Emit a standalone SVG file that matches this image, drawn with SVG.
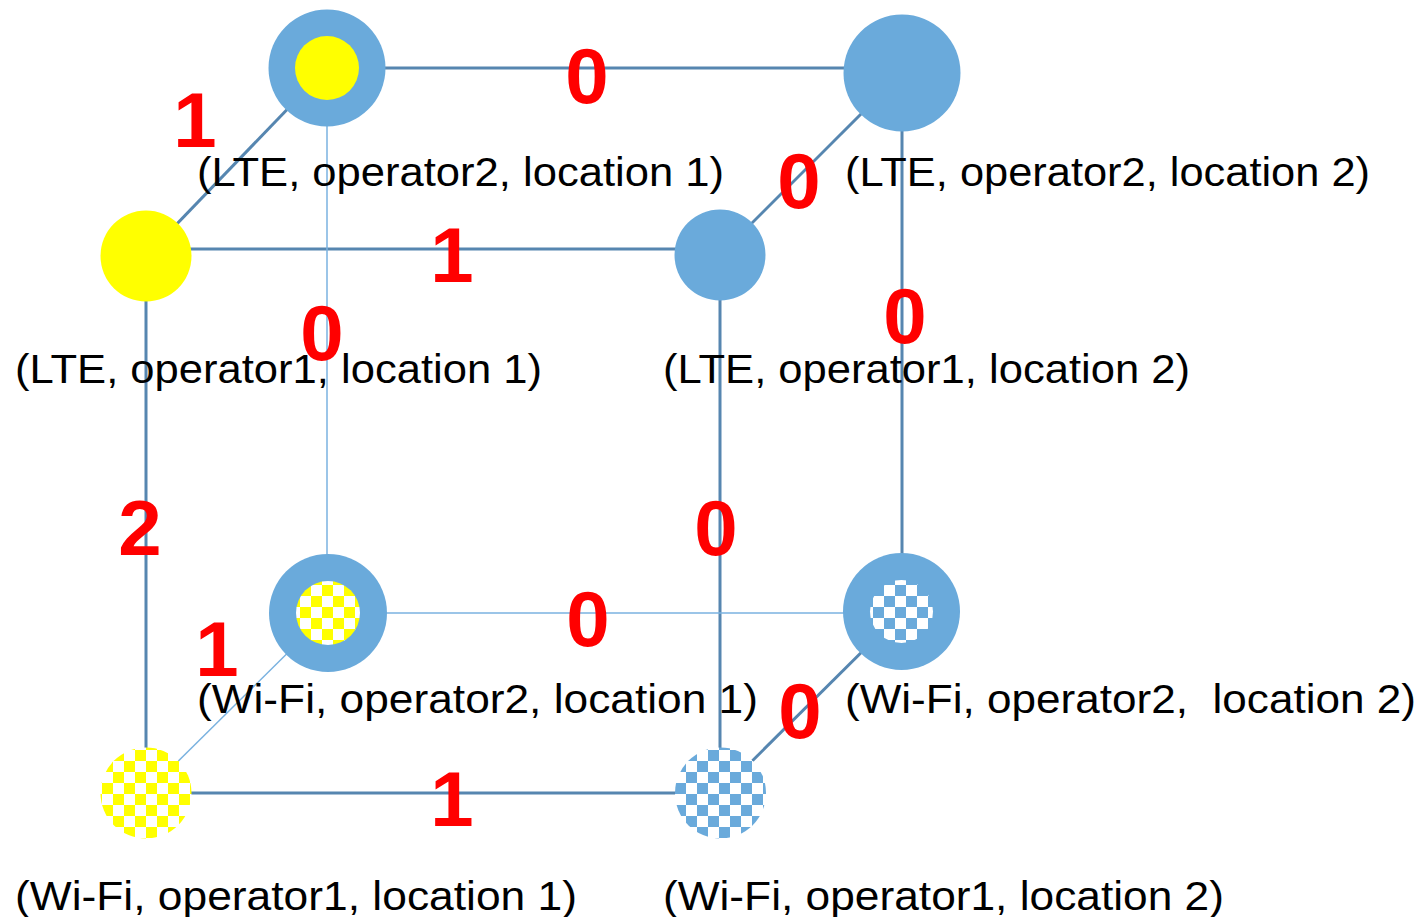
<svg xmlns="http://www.w3.org/2000/svg" width="1422" height="917" viewBox="0 0 1422 917">
<defs>
<pattern id="chkY" patternUnits="userSpaceOnUse" width="22" height="22" x="3" y="2">
<rect width="22" height="22" fill="#ffffff"/>
<rect width="11" height="11" fill="#ffff00"/>
<rect x="11" y="11" width="11" height="11" fill="#ffff00"/>
</pattern>
<pattern id="chkB" patternUnits="userSpaceOnUse" width="22" height="22" x="4" y="2">
<rect width="22" height="22" fill="#ffffff"/>
<rect width="11" height="11" fill="#6aaadb"/>
<rect x="11" y="11" width="11" height="11" fill="#6aaadb"/>
</pattern>
</defs>
<style>
.thick{stroke:#5686b0;stroke-width:3;fill:none}
.thin{stroke:#7ab2e0;stroke-width:1.5;fill:none}
.blue{fill:#6aaadb}
.yel{fill:#ffff00}
.lbl{font-family:"Liberation Sans",Arial,sans-serif;font-size:41px;fill:#000}
.num{font-family:"Liberation Sans",Arial,sans-serif;font-weight:bold;font-size:78px;fill:#ff0000;text-anchor:middle}
</style>
<rect width="1422" height="917" fill="#ffffff"/>
<g id="connectors">
<line class="thick" x1="385" y1="68" x2="845" y2="68"/>
<line class="thick" x1="146" y1="256" x2="327" y2="68"/>
<line class="thick" x1="720" y1="255" x2="902" y2="73"/>
<line class="thick" x1="146" y1="249" x2="720" y2="249"/>
<line class="thick" x1="146" y1="256" x2="146" y2="793"/>
<line class="thick" x1="720" y1="255" x2="720" y2="793"/>
<line class="thick" x1="902" y1="73" x2="902" y2="612"/>
<line class="thin" x1="327" y1="68" x2="327" y2="613"/>
<line class="thin" x1="328" y1="613" x2="902" y2="613"/>
<line class="thick" x1="146" y1="793" x2="720" y2="793"/>
<line class="thin" x1="146" y1="793" x2="328" y2="613"/>
<line class="thick" x1="720" y1="793" x2="902" y2="612"/>
</g>
<g id="n-lte-op2-loc1">
<circle class="blue" cx="327" cy="68" r="58.5"/>
<circle class="yel" cx="327" cy="68" r="32"/>
<text class="lbl" x="197" y="186" textLength="527" lengthAdjust="spacingAndGlyphs">(LTE, operator2, location 1)</text>
</g>
<g id="n-lte-op2-loc2">
<circle class="blue" cx="902" cy="73" r="58.5"/>
<text class="lbl" x="845" y="186" textLength="525" lengthAdjust="spacingAndGlyphs">(LTE, operator2, location 2)</text>
</g>
<g id="n-lte-op1-loc1">
<circle class="yel" cx="146" cy="256" r="45.5"/>
<text class="lbl" x="15" y="383" textLength="527" lengthAdjust="spacingAndGlyphs">(LTE, operator1, location 1)</text>
</g>
<g id="n-lte-op1-loc2">
<circle class="blue" cx="720" cy="255" r="45.5"/>
<text class="lbl" x="663" y="383" textLength="527" lengthAdjust="spacingAndGlyphs">(LTE, operator1, location 2)</text>
</g>
<g id="n-wifi-op2-loc1">
<circle class="blue" cx="328" cy="613" r="59"/>
<circle fill="url(#chkY)" cx="328" cy="613" r="32"/>
<text class="lbl" x="197" y="713" textLength="561" lengthAdjust="spacingAndGlyphs">(Wi-Fi, operator2, location 1)</text>
</g>
<g id="n-wifi-op2-loc2">
<circle class="blue" cx="901.5" cy="611.5" r="58.5"/>
<circle fill="url(#chkB)" cx="901.5" cy="611.5" r="31.5"/>
<text class="lbl" x="845" y="713" textLength="571" lengthAdjust="spacingAndGlyphs" xml:space="preserve">(Wi-Fi, operator2,  location 2)</text>
</g>
<g id="n-wifi-op1-loc1">
<circle fill="url(#chkY)" cx="146" cy="793" r="45.5"/>
<text class="lbl" x="15" y="910" textLength="562" lengthAdjust="spacingAndGlyphs">(Wi-Fi, operator1, location 1)</text>
</g>
<g id="n-wifi-op1-loc2">
<circle fill="url(#chkB)" cx="720.5" cy="793" r="45.5"/>
<text class="lbl" x="663" y="910" textLength="561" lengthAdjust="spacingAndGlyphs">(Wi-Fi, operator1, location 2)</text>
</g>
<g id="edge-labels">
<text class="num" x="587" y="103">0</text>
<text class="num" x="195" y="147">1</text>
<text class="num" x="799" y="208">0</text>
<text class="num" x="452" y="282">1</text>
<text class="num" x="322" y="360">0</text>
<text class="num" x="905" y="343">0</text>
<text class="num" x="140" y="555">2</text>
<text class="num" x="716" y="555">0</text>
<text class="num" x="588" y="646">0</text>
<text class="num" x="217" y="676">1</text>
<text class="num" x="800" y="738">0</text>
<text class="num" x="452" y="826">1</text>
</g>
</svg>
